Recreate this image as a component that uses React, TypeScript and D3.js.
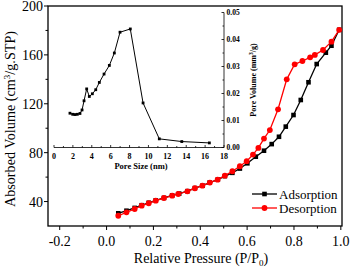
import * as d3 from "d3";

// main isotherm
const adsP = [0.05, 0.085, 0.12, 0.15, 0.18, 0.21, 0.245, 0.28, 0.31, 0.345, 0.377, 0.41, 0.44, 0.475, 0.505, 0.537, 0.569, 0.601, 0.637, 0.672, 0.705, 0.736, 0.765, 0.798, 0.829, 0.862, 0.897, 0.936, 0.96, 0.993];
const adsV = [30.4, 32.5, 34.8, 37, 39, 41, 43, 45, 46.5, 48.5, 51, 53, 55.5, 58, 60.8, 63.5, 67, 71.3, 76.7, 81.6, 87, 93, 101.3, 110.8, 123.1, 137.6, 152.5, 161.8, 167.5, 180.5];
const desP = [0.05, 0.085, 0.12, 0.15, 0.18, 0.21, 0.245, 0.28, 0.306, 0.345, 0.377, 0.409, 0.441, 0.474, 0.505, 0.537, 0.569, 0.598, 0.625, 0.648, 0.672, 0.697, 0.732, 0.769, 0.803, 0.836, 0.869, 0.889, 0.924, 0.96, 0.993];
const desV = [28.4, 31.2, 33.9, 36.6, 38.6, 40.7, 42.9, 44.8, 46.2, 48.4, 50.9, 53, 55.5, 57.9, 61.2, 64.8, 68.9, 73, 78.4, 83.9, 91.5, 98.5, 115.5, 140, 152.3, 155, 158, 160, 164, 170.8, 180.5];

const xTicks = [-0.2, 0, 0.2, 0.4, 0.6, 0.8, 1.0];
const xMinor = [-0.1, 0.1, 0.3, 0.5, 0.7, 0.9];
const yTicks = [40, 80, 120, 160, 200];
const yMinor = [60, 100, 140, 180];

// inset: pore size distribution
const poreSize = [1.69, 1.98, 2.22, 2.47, 2.75, 2.97, 3.18, 3.46, 3.74, 4.06, 4.42, 4.8, 5.3, 5.86, 6.39, 6.99, 8.08, 9.43, 11.15, 13.53, 16.45];
const poreVol = [0.0127, 0.0123, 0.0122, 0.0123, 0.0126, 0.0139, 0.0173, 0.0217, 0.0189, 0.0199, 0.0214, 0.0241, 0.0272, 0.0304, 0.035, 0.0427, 0.0439, 0.0165, 0.0032, 0.0022, 0.0017];
const insetXTicks = [0, 2, 4, 6, 8, 10, 12, 14, 16, 18];
const insetYTicks = [0, 0.01, 0.02, 0.03, 0.04, 0.05];

const serif = "'Liberation Serif', 'Times New Roman', serif";

export default function App() {
  const m = { left: 48, right: 342, top: 6, bottom: 226 };
  const x = d3.scaleLinear().domain([-0.25, 1.005]).range([m.left, m.right]);
  const y = d3.scaleLinear().domain([20, 200]).range([m.bottom, m.top]);

  const ix = d3.scaleLinear().domain([0, 18]).range([54, 224]);
  const iy = d3.scaleLinear().domain([0, 0.05]).range([147.5, 12.5]);

  const line = d3
    .line<number[]>()
    .x((d) => x(d[0]))
    .y((d) => y(d[1]));
  const ads = adsP.map((p, i) => [p, adsV[i]]);
  const des = desP.map((p, i) => [p, desV[i]]);

  const insetLine = d3
    .line<number[]>()
    .x((d) => ix(d[0]))
    .y((d) => iy(d[1]));
  const pores = poreSize.map((s, i) => [s, poreVol[i]]);

  return (
    <svg
      width={350}
      height={268}
      style={{ position: "absolute", left: 0, top: 0, background: "#fff" }}
      fontFamily={serif}
    >
      {/* frame */}
      <rect x={m.left} y={m.top} width={m.right - m.left} height={m.bottom - m.top} fill="none" stroke="#000" strokeWidth={1.3} />

      {/* y axis */}
      {yTicks.map((t) => (
        <g key={"y" + t}>
          <line x1={m.left - 4} x2={m.left} y1={y(t)} y2={y(t)} stroke="#000" />
          <text x={m.left - 5} y={y(t) + 5} textAnchor="end" fontSize={14}>{t}</text>
        </g>
      ))}
      {yMinor.map((t) => (
        <line key={"ym" + t} x1={m.left - 2.5} x2={m.left} y1={y(t)} y2={y(t)} stroke="#000" />
      ))}
      <text transform={`translate(15,${(m.top + m.bottom) / 2 + 3}) rotate(-90)`} textAnchor="middle" fontSize={14.2}>
        Absorbed Volume (cm<tspan dy={-5} fontSize={9}>3</tspan><tspan dy={5}>/g.STP)</tspan>
      </text>

      {/* x axis */}
      {xTicks.map((t) => (
        <g key={"x" + t}>
          <line x1={x(t)} x2={x(t)} y1={m.bottom} y2={m.bottom + 4} stroke="#000" />
          <text x={x(t)} y={m.bottom + 20} textAnchor="middle" fontSize={14}>{t.toFixed(1)}</text>
        </g>
      ))}
      {xMinor.map((t) => (
        <line key={"xm" + t} x1={x(t)} x2={x(t)} y1={m.bottom} y2={m.bottom + 2.5} stroke="#000" />
      ))}
      <text x={201} y={263} textAnchor="middle" fontSize={14}>
        Relative Pressure (P/P<tspan dy={3} fontSize={9}>0</tspan><tspan dy={-3}>)</tspan>
      </text>

      {/* series */}
      <path d={line(ads) ?? ""} fill="none" stroke="#000" strokeWidth={1.3} />
      {ads.map((d, i) => (
        <rect key={"a" + i} x={x(d[0]) - 2.3} y={y(d[1]) - 2.3} width={4.6} height={4.6} fill="#000" />
      ))}
      <path d={line(des) ?? ""} fill="none" stroke="#ff0000" strokeWidth={1.3} />
      {des.map((d, i) => (
        <circle key={"d" + i} cx={x(d[0])} cy={y(d[1])} r={2.9} fill="#ff0000" />
      ))}

      {/* legend */}
      <line x1={252} x2={277} y1={194} y2={194} stroke="#000" strokeWidth={1.3} />
      <rect x={262.2} y={191.7} width={4.6} height={4.6} fill="#000" />
      <text x={279} y={198.5} fontSize={13}>Adsorption</text>
      <line x1={252} x2={277} y1={208} y2={208} stroke="#ff0000" strokeWidth={1.3} />
      <circle cx={264.5} cy={208} r={2.9} fill="#ff0000" />
      <text x={279} y={212.5} fontSize={13}>Desorption</text>

      {/* inset */}
      <g fontWeight="bold">
        <line x1={ix(0)} x2={ix(18)} y1={iy(0)} y2={iy(0)} stroke="#000" strokeWidth={0.8} />
        {insetXTicks.map((t) => (
          <g key={"ix" + t}>
            <line x1={ix(t)} x2={ix(t)} y1={iy(0)} y2={iy(0) - 2.5} stroke="#000" strokeWidth={0.8} />
            <text x={ix(t)} y={iy(0) + 11} textAnchor="middle" fontSize={8}>{t}</text>
          </g>
        ))}
        {insetXTicks.slice(0, -1).map((t) => (
          <line key={"ixm" + t} x1={ix(t + 1)} x2={ix(t + 1)} y1={iy(0)} y2={iy(0) - 1.5} stroke="#000" strokeWidth={0.8} />
        ))}
        <text x={(ix(0) + ix(18)) / 2 + 2} y={iy(0) + 21} textAnchor="middle" fontSize={8.5}>Pore Size (nm)</text>

        <line x1={ix(18)} x2={ix(18)} y1={iy(0)} y2={iy(0.05)} stroke="#000" strokeWidth={0.8} />
        {insetYTicks.map((t) => (
          <g key={"iy" + t}>
            <line x1={ix(18) - 2.5} x2={ix(18)} y1={iy(t)} y2={iy(t)} stroke="#000" strokeWidth={0.8} />
            <text x={ix(18) + 2.5} y={iy(t) + 2.8} fontSize={7.5}>{t.toFixed(2)}</text>
          </g>
        ))}
        {insetYTicks.slice(0, -1).map((t) => (
          <line key={"iym" + t} x1={ix(18) - 1.5} x2={ix(18)} y1={iy(t + 0.005)} y2={iy(t + 0.005)} stroke="#000" strokeWidth={0.8} />
        ))}
        <text transform={`translate(256,${(iy(0) + iy(0.05)) / 2}) rotate(-90)`} textAnchor="middle" fontSize={8}>
          Pore Volume (mm<tspan dy={-3} fontSize={5.5}>3</tspan><tspan dy={3}>/g)</tspan>
        </text>
      </g>
      <path d={insetLine(pores) ?? ""} fill="none" stroke="#000" strokeWidth={1} />
      {pores.map((d, i) => (
        <rect key={"p" + i} x={ix(d[0]) - 1.4} y={iy(d[1]) - 1.4} width={2.8} height={2.8} fill="#000" />
      ))}
    </svg>
  );
}
